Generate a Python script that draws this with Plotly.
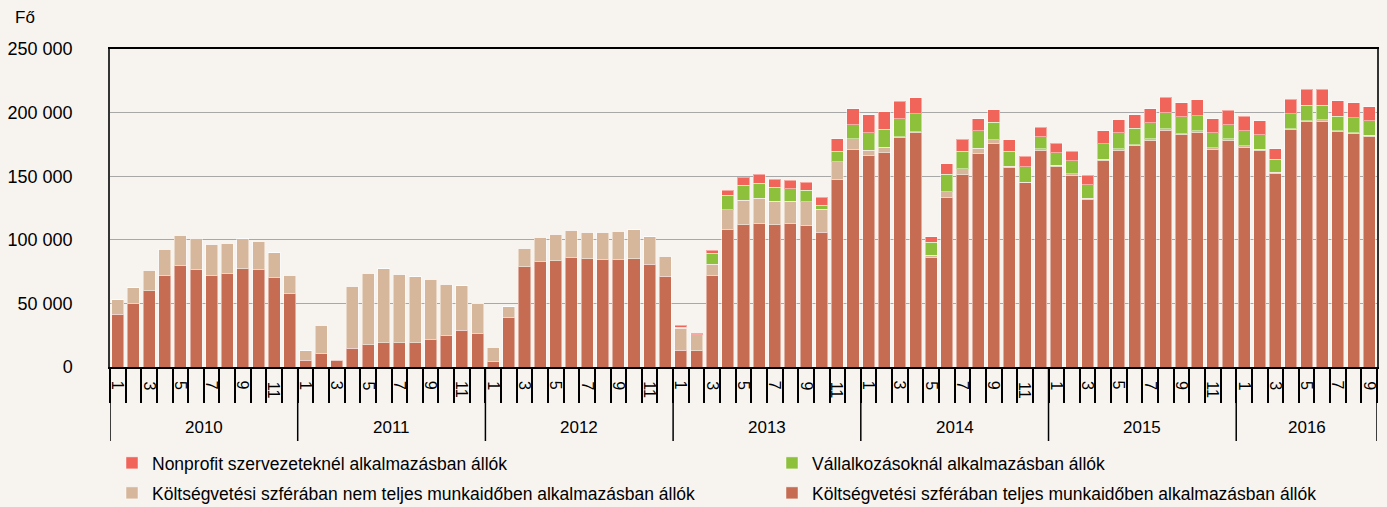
import plotly.graph_objects as go

years = [2010, 2011, 2012, 2013, 2014, 2015, 2016]
months_per_year = [12, 12, 12, 12, 12, 12, 9]
month_labels = ["1", "", "3", "", "5", "", "7", "", "9", "", "11", ""]

# Költségvetési szférában teljes munkaidőben alkalmazásban állók
full_time = [
    41500, 50100, 60100, 71700, 80100, 76400, 72200, 73800, 77400, 76700, 70600, 57750,
    5500, 10500, 5300, 14700, 17600, 18900, 18900, 18900, 21800, 24900, 28900, 26500,
    4500, 38600, 78750, 83200, 83500, 85800, 85050, 84300, 84300, 85050, 80600, 71400,
    13100, 12600, 72200, 108400, 111800, 112600, 111800, 112600, 111000, 106000, 147300, 170900,
    166200, 168500, 180300, 184300, 85800, 133350, 151200, 167700, 175600, 156700, 144900, 170100,
    157500, 150900, 132000, 162200, 170100, 173800, 178000, 186100, 182400, 184300, 170900, 178000,
    172700, 170100, 152500, 186400, 192900, 192900, 184800, 183500, 181100,
]
# Költségvetési szférában nem teljes munkaidőben alkalmazásban állók
part_time = [
    11500, 12400, 15800, 20700, 23600, 24700, 24400, 23600, 23400, 22000, 19400, 14450,
    7400, 22300, 700, 48600, 56200, 58500, 54100, 52000, 47000, 40200, 35100, 23400,
    11000, 8650, 14450, 18700, 21000, 21600, 20750, 21700, 22300, 22850, 21800, 15500,
    17300, 12600, 8650, 15200, 19200, 20200, 18700, 17900, 18900, 18200, 13900, 8400,
    4400, 4200, 600, 500, 2100, 4450, 4700, 4200, 2900, 1300, 500, 1300,
    1300, 1100, 800, 1300, 1300, 800, 1300, 1300, 1100, 1300, 1300, 1300,
    1100, 1050, 800, 1000, 800, 1300, 1050, 800, 1100,
]
# Vállalkozásoknál alkalmazásban állók
business = [0] * 36 + [
    1000, 300, 8650, 11300, 11800, 11800, 10700, 9700, 9000, 3100, 8600, 11000,
    13700, 14200, 14100, 14400, 10300, 13900, 13700, 13700, 13900, 11800, 12100, 9700,
    9700, 10000, 10300, 12100, 12600, 13100, 12600, 12600, 13100, 12100, 12100, 11300,
    12100, 11550, 10200, 11600, 12100, 11550, 11250, 11500, 11300,
]
# Nonprofit szervezeteknél alkalmazásban állók
nonprofit = [0] * 36 + [
    1600, 1000, 2100, 4000, 6300, 6900, 6300, 6500, 6300, 6000, 9500, 12600,
    13900, 13700, 13900, 12400, 4200, 7900, 9400, 9400, 9700, 8700, 8100, 7400,
    7600, 7600, 7800, 10000, 10500, 10500, 11000, 12100, 11000, 12300, 10700, 11300,
    11200, 11000, 7900, 11500, 12600, 12600, 12100, 11800, 11000,
]

series = [
    ("Költségvetési szférában teljes munkaidőben alkalmazásban állók", full_time, "#C66C52", "legend4"),
    ("Költségvetési szférában nem teljes munkaidőben alkalmazásban állók", part_time, "#D7B79B", "legend3"),
    ("Vállalkozásoknál alkalmazásban állók", business, "#8DC13C", "legend2"),
    ("Nonprofit szervezeteknél alkalmazásban állók", nonprofit, "#F0645A", "legend"),
]

n = sum(months_per_year)
x = list(range(n))

fig = go.Figure()
for name, vals, color, leg in series:
    fig.add_trace(go.Bar(
        x=x, y=vals, name=name,
        marker=dict(color=color, line=dict(color="rgba(255,255,255,0.45)", width=1)),
        legend=leg,
    ))

FONT = "Liberation Sans, Arial, sans-serif"
plot_h = 507 - 49 - 140
plot_w = 1387 - 110 - 10

annotations = []
shapes = []
start = 0
for yr, cnt in zip(years, months_per_year):
    for m in range(cnt):
        lab = month_labels[m]
        if lab:
            off = 14 + 4.5 * len(lab)
            annotations.append(dict(
                x=start + m, y=-off / plot_h, xref="x", yref="paper", text=lab, showarrow=False,
                textangle=90, font=dict(size=16, color="#000", family=FONT),
                xanchor="center", yanchor="middle",
            ))
    annotations.append(dict(
        x=start + (cnt - 1) / 2, y=-60 / plot_h, xref="x", yref="paper", text=str(yr), showarrow=False,
        font=dict(size=17, color="#000", family=FONT), xanchor="center", yanchor="middle",
    ))
    shapes.append(dict(type="line", xref="x", yref="paper", x0=start - 0.5, x1=start - 0.5,
                       y0=0, y1=-74 / plot_h, line=dict(color="#000", width=1.5)))
    start += cnt
shapes.append(dict(type="line", xref="x", yref="paper", x0=start - 0.5, x1=start - 0.5,
                   y0=0, y1=-74 / plot_h, line=dict(color="#000", width=1.5)))

annotations.append(dict(xref="paper", yref="paper", x=-85 / plot_w, y=1 + 31 / plot_h,
                        text="Fő", showarrow=False, xanchor="center", yanchor="middle",
                        font=dict(size=17, color="#000", family=FONT)))


def leg(xpx, ypx):
    return dict(orientation="h", x=xpx / plot_w, xanchor="left", y=-ypx / plot_h, yanchor="middle",
                font=dict(size=17.5, family=FONT), bgcolor="rgba(0,0,0,0)")


fig.update_layout(
    width=1387, height=507,
    margin=dict(l=110, r=10, t=49, b=140, autoexpand=False),
    barmode="stack", bargap=0.23,
    paper_bgcolor="#F7F4F0", plot_bgcolor="#F7F4F0",
    separators=". ",
    font=dict(family=FONT, size=16, color="#000"),
    xaxis=dict(
        range=[-0.5, n - 0.5], tickvals=[i - 0.5 for i in range(n + 1)], ticktext=[""] * (n + 1),
        ticks="outside", ticklen=34, tickwidth=1.5, tickcolor="#000",
        showgrid=False, zeroline=False, showline=True, linecolor="#000", linewidth=1.5,
        mirror=True,
    ),
    yaxis=dict(
        range=[0, 250000], dtick=50000, tickformat=",d",
        ticks="outside", ticklen=32, tickcolor="rgba(0,0,0,0)",
        showgrid=True, gridcolor="#A8A8A8", gridwidth=1,
        zeroline=False, showline=True, linecolor="#333", linewidth=1.5, mirror=True,
        tickfont=dict(size=18, family=FONT),
    ),
    legend=leg(2, 96),
    legend2=leg(662, 96),
    legend3=leg(2, 126),
    legend4=leg(662, 126),
    annotations=annotations,
    shapes=shapes,
    showlegend=True,
)

fig.write_html("out.html", post_script="document.body.style.margin='0';",
               config={"displayModeBar": False})
